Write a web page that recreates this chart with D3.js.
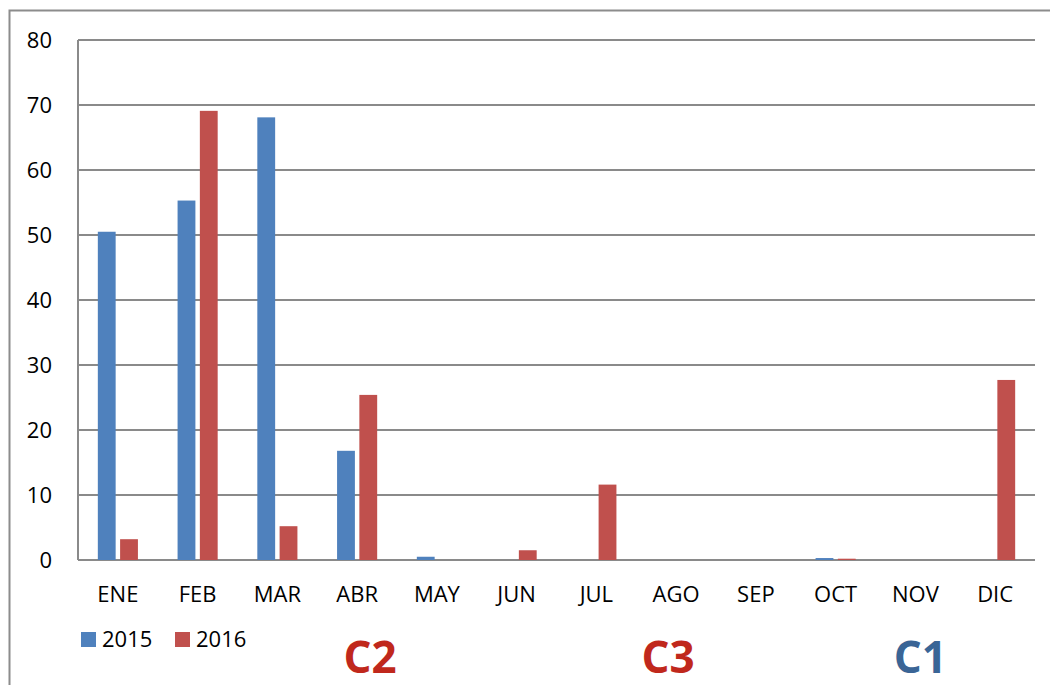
<!DOCTYPE html>
<html>
<head>
<meta charset="utf-8">
<script src="https://cdn.jsdelivr.net/npm/d3@7"></script>
<style>
  body { margin: 0; background: #fff; }
  svg { display: block; font-family: "Open Sans", sans-serif; }
</style>
</head>
<body>
<div id="chart"></div>
<script>
let width = 1050,
    height = 685

// data
let months = ["ENE", "FEB", "MAR", "ABR", "MAY", "JUN", "JUL", "AGO", "SEP", "OCT", "NOV", "DIC"]
let years = ["2015", "2016"]
let values2015 = [50.5, 55.3, 68.1, 16.8, 0.5, 0, 0, 0, 0, 0.3, 0, 0]
let values2016 = [3.2, 69.1, 5.2, 25.4, 0, 1.5, 11.6, 0, 0, 0.2, 0, 27.7]
let yTicks = [0, 10, 20, 30, 40, 50, 60, 70, 80]
let notes = [
  { label: "C2", month: "ABR", shift: 13, color: "#c0281c" },
  { label: "C3", month: "AGO", shift: -8, color: "#c0281c" },
  { label: "C1", month: "NOV", shift: 5, color: "#3a6596" }
]

let color = d3.scaleOrdinal()
    .domain(years)
    .range(["#4f81bd", "#c0504d"])

let margin = { top: 40, right: 15, bottom: 125, left: 78 }

let svg = d3.select("#chart").append("svg")
    .attr("width", width)
    .attr("height", height)

// outer frame (only top and left edges show)
svg.append("path")
    .attr("d", "M9.5," + height + "V10.5H" + width)
    .attr("fill", "none")
    .attr("stroke", "#8c8c8c")
    .attr("stroke-width", 2)

let x = d3.scaleBand()
    .domain(months)
    .range([margin.left, width - margin.right])

let xYear = d3.scaleBand()
    .domain(years)
    .range([0, x.bandwidth()])
    .paddingInner(0.2)
    .paddingOuter(0.89)

let y = d3.scaleLinear()
    .domain([0, 80])
    .range([height - margin.bottom, margin.top])

// gridlines
svg.append("g")
    .selectAll("line")
    .data(yTicks)
  .enter().append("line")
    .attr("x1", margin.left)
    .attr("x2", width - margin.right)
    .attr("y1", d => y(d))
    .attr("y2", d => y(d))
    .attr("stroke", "#8a8a8a")
    .attr("stroke-width", 2)

// left axis line
svg.append("line")
    .attr("x1", margin.left)
    .attr("x2", margin.left)
    .attr("y1", y(80))
    .attr("y2", y(0))
    .attr("stroke", "#8a8a8a")
    .attr("stroke-width", 2)

// y labels
svg.append("g")
    .selectAll("text")
    .data(yTicks)
  .enter().append("text")
    .attr("x", 52)
    .attr("y", d => y(d))
    .attr("dy", "0.36em")
    .attr("text-anchor", "end")
    .attr("font-size", 22)
    .attr("fill", "#000")
    .text(d => d)

// bars
let series = [values2015, values2016]
series.forEach(function(vals, i) {
  svg.append("g")
      .selectAll("rect")
      .data(vals)
    .enter().append("rect")
      .attr("x", (d, j) => x(months[j]) + xYear(years[i]))
      .attr("width", xYear.bandwidth())
      .attr("y", d => y(d))
      .attr("height", d => y(0) - y(d))
      .attr("fill", color(years[i]))
})

// x labels
svg.append("g")
    .selectAll("text")
    .data(months)
  .enter().append("text")
    .attr("x", d => x(d) + x.bandwidth() / 2)
    .attr("y", 594)
    .attr("dy", "0.36em")
    .attr("text-anchor", "middle")
    .attr("font-size", 22)
    .attr("fill", "#000")
    .text(d => d)

// legend
let legend = svg.append("g")
    .selectAll("g")
    .data(years)
  .enter().append("g")
    .attr("transform", (d, i) => "translate(" + (81 + i * 94) + ",632)")

legend.append("rect")
    .attr("width", 15)
    .attr("height", 15)
    .attr("fill", d => color(d))

legend.append("text")
    .attr("x", 21)
    .attr("y", 7.5)
    .attr("dy", "0.36em")
    .attr("font-size", 22)
    .attr("fill", "#000")
    .text(d => d)

// big cluster labels
svg.append("g")
    .selectAll("text")
    .data(notes)
  .enter().append("text")
    .attr("x", d => x(d.month) + x.bandwidth() / 2 + d.shift)
    .attr("y", 673)
    .attr("text-anchor", "middle")
    .attr("font-size", 44)
    .attr("font-weight", "bold")
    .attr("fill", d => d.color)
    .text(d => d.label)
</script>
</body>
</html>
